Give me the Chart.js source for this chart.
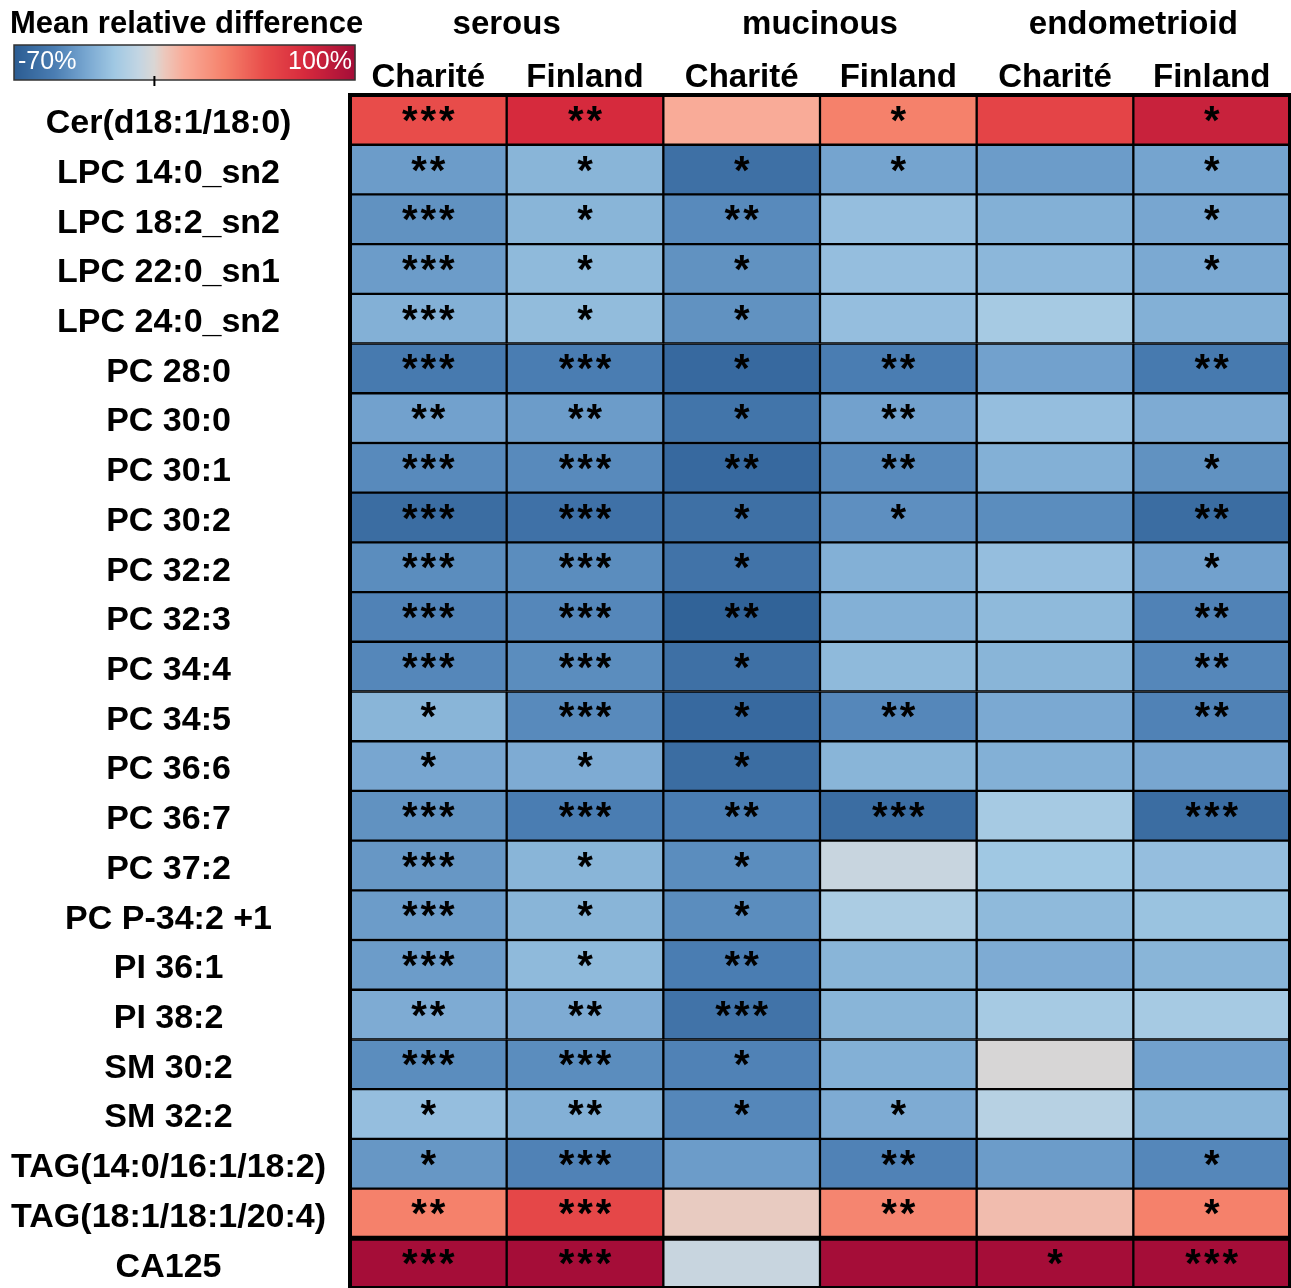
<!DOCTYPE html>
<html>
<head>
<meta charset="utf-8">
<script src="https://cdn.jsdelivr.net/npm/chart.js@4.4.0/dist/chart.umd.min.js"></script>
<style>
  body { margin: 0; background: #fff; }
  #wrap { width: 1291px; height: 1288px; position: relative; }
</style>
</head>
<body>
<div id="wrap"><canvas id="heatmap"></canvas></div>
<script>
// Row labels (lipids + CA125)
const rowLabels = ['Cer(d18:1/18:0)', 'LPC 14:0_sn2', 'LPC 18:2_sn2', 'LPC 22:0_sn1', 'LPC 24:0_sn2',
    'PC 28:0', 'PC 30:0', 'PC 30:1', 'PC 30:2', 'PC 32:2', 'PC 32:3', 'PC 34:4', 'PC 34:5', 'PC 36:6',
    'PC 36:7', 'PC 37:2', 'PC P-34:2 +1', 'PI 36:1', 'PI 38:2', 'SM 30:2', 'SM 32:2',
    'TAG(14:0/16:1/18:2)', 'TAG(18:1/18:1/20:4)', 'CA125'];
const columnLabels = ['Charité', 'Finland', 'Charité', 'Finland', 'Charité', 'Finland'];
const groupLabels = ['serous', 'mucinous', 'endometrioid'];

// Mean relative difference (%) per column
const serousCharite   = [55, -38, -42, -38, -30, -52, -36, -45, -60, -44, -48, -46, -28, -34, -42, -40, -38, -38, -32, -44, -24, -40, 35, 100];
const serousFinland   = [75, -28, -28, -26, -25, -50, -38, -45, -57, -44, -46, -44, -45, -32, -50, -28, -28, -26, -32, -44, -30, -48, 58, 100];
const mucinousCharite = [15, -58, -45, -42, -42, -62, -55, -62, -58, -56, -66, -58, -62, -60, -50, -44, -44, -50, -56, -48, -46, -38, 4, -6];
const mucinousFinland = [35, -35, -24, -24, -24, -50, -36, -45, -43, -30, -30, -26, -46, -28, -60, -6, -16, -28, -28, -30, -32, -48, 33, 100];
const endoCharite     = [60, -38, -30, -27, -18, -36, -24, -30, -44, -24, -26, -28, -33, -30, -18, -20, -26, -32, -18, -1, -12, -38, 9, 100];
const endoFinland     = [82, -35, -34, -33, -30, -52, -32, -42, -60, -36, -48, -46, -48, -34, -60, -24, -22, -28, -18, -36, -28, -46, 35, 100];

// Significance stars per column
const serousChariteSig   = ['***','**','***','***','***','***','**','***','***','***','***','***','*','*','***','***','***','***','**','***','*','*','**','***'];
const serousFinlandSig   = ['**','*','*','*','*','***','**','***','***','***','***','***','***','*','***','*','*','*','**','***','**','***','***','***'];
const mucinousChariteSig = ['','*','**','*','*','*','*','**','*','*','**','*','*','*','**','*','*','**','***','*','*','','',''];
const mucinousFinlandSig = ['*','*','','','','**','**','**','*','','','','**','','***','','','','','','*','**','**',''];
const endoChariteSig     = ['','','','','','','','','','','','','','','','','','','','','','','','*'];
const endoFinlandSig     = ['*','*','*','*','','**','','*','**','*','**','**','**','','***','','','','','','','*','*','***'];

const columnValues = [serousCharite, serousFinland, mucinousCharite, mucinousFinland, endoCharite, endoFinland];
const columnSig = [serousChariteSig, serousFinlandSig, mucinousChariteSig, mucinousFinlandSig, endoChariteSig, endoFinlandSig];

const scaleMin = -70, scaleMax = 100;

// colour stops for the diverging scale
const colorStops = [
    [-70, [43, 92, 146]],
    [-50, [74, 125, 178]],
    [-35, [117, 164, 207]],
    [-20, [160, 200, 227]],
    [-8, [194, 213, 227]],
    [0, [218, 214, 212]],
    [5, [236, 200, 188]],
    [15, [249, 171, 152]],
    [35, [245, 129, 107]],
    [55, [232, 76, 74]],
    [75, [214, 42, 61]],
    [100, [165, 13, 56]]
];

function colorFor(v) {
    v = Math.max(scaleMin, Math.min(scaleMax, v));
    for (let k = 1; k < colorStops.length; k++) {
        const [v1, c1] = colorStops[k];
        const [v0, c0] = colorStops[k - 1];
        if (v <= v1) {
            const t = (v - v0) / (v1 - v0);
            const c = c0.map((x, i) => Math.round(x + (c1[i] - x) * t));
            return `rgb(${c[0]},${c[1]},${c[2]})`;
        }
    }
    return 'rgb(165,13,56)';
}

const FONT = '"Liberation Sans", Arial, sans-serif';

// Build one floating-bar dataset per column
const datasets = columnValues.map((vals, j) => ({
    label: columnLabels[j],
    data: rowLabels.map(() => [j, j + 1]),
    backgroundColor: vals.map(v => colorFor(v)),
    borderColor: '#000',
    borderWidth: 1.5,
    borderSkipped: false,
    barPercentage: 1,
    categoryPercentage: 1,
    grouped: false
}));

// Stars, frame, and colour legend
const decorPlugin = {
    id: 'decor',
    afterDatasetsDraw(chart) {
        const ctx = chart.ctx;
        const area = chart.chartArea;
        ctx.save();
        // significance stars
        ctx.fillStyle = '#000';
        ctx.font = `bold 40px ${FONT}`;
        ctx.letterSpacing = '3px';
        ctx.textAlign = 'center';
        ctx.textBaseline = 'middle';
        columnSig.forEach((sig, j) => {
            const meta = chart.getDatasetMeta(j);
            meta.data.forEach((bar, i) => {
                if (!sig[i]) return;
                const cx = (bar.x + bar.base) / 2;
                ctx.fillText(sig[i], cx + 1.5, bar.y + 3);
            });
        });
        ctx.letterSpacing = '0px';
        // outer frame
        ctx.strokeStyle = '#000';
        ctx.lineWidth = 4;
        ctx.strokeRect(area.left, area.top, area.right - area.left, area.bottom - area.top);
        // thicker line above CA125
        const meta = chart.getDatasetMeta(0);
        const last = meta.data[rowLabels.length - 1];
        const yLine = last.y - last.height / 2;
        ctx.lineWidth = 5;
        ctx.beginPath();
        ctx.moveTo(area.left, yLine);
        ctx.lineTo(area.right, yLine);
        ctx.stroke();

        // colour legend
        const lx = 14, ly = 45, lw = 341, lh = 35;
        for (let px = 0; px < lw; px++) {
            const v = scaleMin + (scaleMax - scaleMin) * (px + 0.5) / lw;
            ctx.fillStyle = colorFor(v);
            ctx.fillRect(lx + px, ly, 1.2, lh);
        }
        ctx.lineWidth = 1.5;
        ctx.strokeStyle = '#333';
        ctx.strokeRect(lx, ly, lw, lh);
        const zx = lx + lw * (0 - scaleMin) / (scaleMax - scaleMin);
        ctx.strokeStyle = '#000';
        ctx.lineWidth = 2;
        ctx.beginPath();
        ctx.moveTo(zx, ly + lh - 4);
        ctx.lineTo(zx, ly + lh + 6);
        ctx.stroke();
        ctx.fillStyle = '#fff';
        ctx.font = `25px ${FONT}`;
        ctx.textBaseline = 'middle';
        ctx.textAlign = 'left';
        ctx.fillText('-70%', lx + 4, ly + lh / 2);
        ctx.textAlign = 'right';
        ctx.fillText('100%', lx + lw - 3, ly + lh / 2);
        ctx.fillStyle = '#000';
        ctx.font = `bold 31px ${FONT}`;
        ctx.textAlign = 'left';
        ctx.textBaseline = 'alphabetic';
        ctx.fillText('Mean relative difference', 10, 33);
        ctx.restore();
    }
};

new Chart(document.getElementById('heatmap'), {
    type: 'bar',
    data: { labels: rowLabels, datasets: datasets },
    options: {
        indexAxis: 'y',
        responsive: true,
        maintainAspectRatio: false,
        animation: false,
        layout: { padding: { left: 0, right: 1, top: 0, bottom: 0 } },
        plugins: {
            legend: { display: false },
            tooltip: { enabled: false }
        },
        scales: {
            y: {
                type: 'category',
                offset: true,
                grid: { display: false, drawTicks: false },
                border: { display: false },
                ticks: {
                    color: '#000',
                    font: { family: FONT, size: 34, weight: 'bold' },
                    crossAlign: 'center',
                    padding: 24,
                    labelOffset: 4,
                    autoSkip: false
                },
                afterFit(scale) {
                    scale.width = 350;
                    scale.paddingTop = 0;
                    scale.paddingBottom = 0;
                }
            },
            x: {
                type: 'linear',
                position: 'top',
                min: 0,
                max: 6,
                weight: 0,
                grid: { display: false, drawTicks: false },
                border: { display: false },
                afterBuildTicks(scale) {
                    scale.ticks = columnLabels.map((_, j) => ({ value: j + 0.5 }));
                },
                ticks: {
                    color: '#000',
                    font: { family: FONT, size: 33, weight: 'bold' },
                    padding: -3,
                    maxRotation: 0,
                    autoSkip: false,
                    callback: (v) => columnLabels[Math.round(v - 0.5)]
                },
                afterFit(scale) {
                    scale.height = 43;
                    scale.paddingLeft = 0;
                    scale.paddingRight = 0;
                }
            },
            x2: {
                type: 'linear',
                axis: 'x',
                position: 'top',
                min: 0,
                max: 6,
                weight: 1,
                grid: { display: false, drawTicks: false },
                border: { display: false },
                afterBuildTicks(scale) {
                    scale.ticks = groupLabels.map((_, g) => ({ value: g * 2 + 1 }));
                },
                ticks: {
                    color: '#000',
                    font: { family: FONT, size: 33, weight: 'bold' },
                    padding: 7,
                    maxRotation: 0,
                    autoSkip: false,
                    callback: (v) => groupLabels[Math.round((v - 1) / 2)]
                },
                afterFit(scale) {
                    scale.height = 52;
                    scale.paddingLeft = 0;
                    scale.paddingRight = 0;
                }
            }
        }
    },
    plugins: [decorPlugin]
});
</script>
</body>
</html>
